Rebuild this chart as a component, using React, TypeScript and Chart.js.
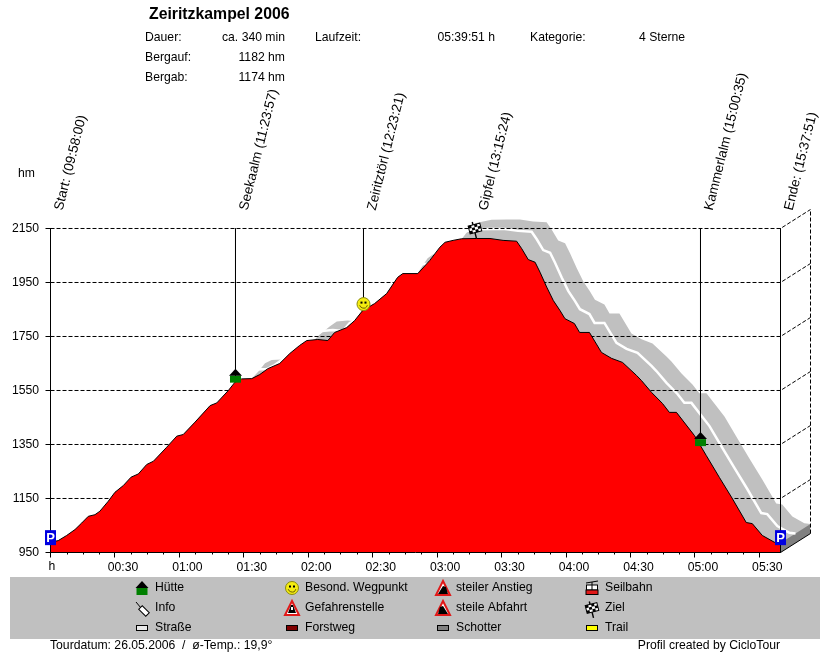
import React, { useEffect, useRef } from "react";
import { Chart, registerables } from "chart.js";

Chart.register(...registerables);

const profileMinutes = [0, 3.6, 7.5, 11.4, 14.5, 17.6, 20.7, 23.0, 26.9, 30.0, 33.9, 37.5, 40.9, 44.8, 47.9, 54.1, 58.8, 61.8, 67.3, 74.3, 77.4, 82.8, 85.9, 89.0, 93.7, 97.4, 101.2, 106.7, 111.4, 116.0, 119.3, 124.4, 129.1, 132.3, 137.9, 141.6, 145.3, 150.9, 156.5, 161.6, 164.0, 171.0, 176.5, 181.3, 183.7, 187.4, 191.4, 198.4, 204.6, 210.7, 217.0, 219.4, 222.4, 225.6, 227.9, 231.0, 234.1, 237.2, 239.5, 243.9, 246.3, 250.9, 256.5, 261.2, 266.3, 272.8, 275.1, 279.8, 284.9, 288.1, 291.4, 299.8, 305.3, 311.4, 317.4, 323.9, 326.7, 331.4, 337.0, 339.85];
const profileElevation = [988, 994, 1013, 1035, 1059, 1084, 1090, 1103, 1140, 1173, 1198, 1229, 1241, 1276, 1288, 1340, 1381, 1387, 1433, 1494, 1504, 1550, 1581, 1593, 1594, 1609, 1631, 1650, 1687, 1717, 1735, 1739, 1735, 1765, 1783, 1809, 1846, 1872, 1909, 1969, 1983, 1983, 2031, 2081, 2099, 2106, 2112, 2113, 2113, 2106, 2103, 2075, 2035, 2025, 1988, 1933, 1883, 1846, 1816, 1798, 1765, 1765, 1691, 1669, 1654, 1606, 1587, 1543, 1502, 1469, 1469, 1383, 1309, 1228, 1150, 1061, 1057, 1013, 988, 985];

const yTicks = [950, 1150, 1350, 1550, 1750, 1950, 2150];
const xTickMinutes = [0, 30, 60, 90, 120, 150, 180, 210, 240, 270, 300, 330];
const xTickLabels = ["", "00:30", "01:00", "01:30", "02:00", "02:30", "03:00", "03:30", "04:00", "04:30", "05:00", "05:30"];
const tourEnd = 339.85;

const waypointNames = ["Start: (09:58:00)", "Seekaalm (11:23:57)", "Zeiritztörl (12:23:21)", "Gipfel (13:15:24)", "Kammerlalm (15:00:35)", "Ende: (15:37:51)"];
const waypointMinutes = [0, 86.12, 145.71, 197.6, 302.6, 339.85];
const waypointStemEnd = [950, 1600, 1875, 2150, 1390, 950];
const waypointIconElev = [1005, 1605, 1870, 2150, 1370, 1005];
const waypointIcons = ["parking", "hut", "smiley", "flag", "hut", "parking"];

const legendRows = [
  [["hut", "Hütte"], ["smiley", "Besond. Wegpunkt"], ["up", "steiler Anstieg"], ["cable", "Seilbahn"]],
  [["pin", "Info"], ["warn", "Gefahrenstelle"], ["down", "steile Abfahrt"], ["flag", "Ziel"]],
  [["road", "Straße"], ["forest", "Forstweg"], ["gravel", "Schotter"], ["trail", "Trail"]],
];

const depthMinutes = 13.96;
const depthMeters = 70.37;

const FONT = '"Liberation Sans", Arial, sans-serif';
const BASE = `12.2px ${FONT}`;

function tri(ctx: CanvasRenderingContext2D, x: number, y: number, kind: string) {
  ctx.beginPath(); ctx.moveTo(x, y - 7); ctx.lineTo(x + 7, y + 7); ctx.lineTo(x - 7, y + 7); ctx.closePath();
  ctx.fillStyle = "#fff"; ctx.fill();
  ctx.strokeStyle = "#e01818"; ctx.lineWidth = 2; ctx.stroke();
  ctx.fillStyle = "#000";
  if (kind === "warn") {
    ctx.beginPath(); ctx.moveTo(x - 1, y - 3); ctx.lineTo(x - 4, y + 5); ctx.lineTo(x + 4, y + 5); ctx.lineTo(x + 1, y - 3); ctx.closePath(); ctx.fill();
    ctx.fillStyle = "#fff"; ctx.fillRect(x - 1, y - 1, 2, 3);
  } else {
    ctx.beginPath();
    if (kind === "up") { ctx.moveTo(x - 5, y + 6); ctx.lineTo(x + 5, y + 6); ctx.lineTo(x + 3, y - 1); ctx.lineTo(x, y - 2); }
    else { ctx.moveTo(x - 5, y + 6); ctx.lineTo(x + 5, y + 6); ctx.lineTo(x, y - 2); ctx.lineTo(x - 3, y - 1); }
    ctx.closePath(); ctx.fill();
  }
}

function drawIcon(ctx: CanvasRenderingContext2D, kind: string, x: number, y: number) {
  ctx.save();
  ctx.lineWidth = 1;
  if (kind === "hut") {
    ctx.fillStyle = "#008000"; ctx.fillRect(x - 5.5, y, 11, 7);
    ctx.fillStyle = "#000"; ctx.beginPath(); ctx.moveTo(x, y - 7); ctx.lineTo(x + 6.5, y); ctx.lineTo(x - 6.5, y); ctx.closePath(); ctx.fill();
  } else if (kind === "parking") {
    ctx.fillStyle = "#0000e0"; ctx.fillRect(x - 5.5, y - 7.5, 11, 15);
    ctx.fillStyle = "#fff"; ctx.font = `bold 13px ${FONT}`; ctx.textAlign = "center"; ctx.textBaseline = "middle"; ctx.fillText("P", x, y + 0.5);
  } else if (kind === "smiley") {
    ctx.beginPath(); ctx.arc(x, y, 6.5, 0, Math.PI * 2); ctx.fillStyle = "#f4ec10"; ctx.fill(); ctx.strokeStyle = "#8a8a10"; ctx.stroke();
    ctx.fillStyle = "#000"; ctx.fillRect(x - 3, y - 2.5, 2, 2); ctx.fillRect(x + 1, y - 2.5, 2, 2);
    ctx.beginPath(); ctx.arc(x, y, 4, 0.3, Math.PI - 0.3); ctx.strokeStyle = "#6a5a00"; ctx.stroke();
  } else if (kind === "flag") {
    ctx.translate(x, y); ctx.rotate(-0.25);
    ctx.strokeStyle = "#000"; ctx.lineWidth = 1.4; ctx.beginPath(); ctx.moveTo(-1, 10); ctx.lineTo(-1, -7); ctx.stroke();
    ctx.lineWidth = 1; ctx.fillStyle = "#fff"; ctx.fillRect(-6, -4, 12, 8); ctx.strokeRect(-6, -4, 12, 8);
    ctx.fillStyle = "#000";
    for (let i = 0; i < 4; i++) for (let j = 0; j < 3; j++) if ((i + j) % 2 === 0) ctx.fillRect(-6 + i * 3, -4 + j * 2.67, 3, 2.67);
  } else if (kind === "up" || kind === "down" || kind === "warn") {
    tri(ctx, x, y, kind);
  } else if (kind === "cable") {
    ctx.strokeStyle = "#000"; ctx.beginPath(); ctx.moveTo(x - 6, y - 5); ctx.lineTo(x + 6, y - 7); ctx.moveTo(x, y - 6); ctx.lineTo(x, y - 3); ctx.stroke();
    ctx.fillStyle = "#fff"; ctx.fillRect(x - 5.5, y - 3, 11, 5); ctx.strokeRect(x - 5.5, y - 3, 11, 5);
    ctx.fillStyle = "#e01818"; ctx.fillRect(x - 6, y + 2, 12, 4.5); ctx.strokeRect(x - 6, y + 2, 12, 4.5);
    ctx.beginPath(); ctx.moveTo(x, y - 3); ctx.lineTo(x, y + 2); ctx.stroke();
  } else if (kind === "pin") {
    ctx.strokeStyle = "#000"; ctx.beginPath(); ctx.moveTo(x - 6, y - 6); ctx.lineTo(x - 1, y); ctx.stroke();
    ctx.translate(x + 2, y + 3); ctx.rotate(Math.PI / 4); ctx.fillStyle = "#fff"; ctx.fillRect(-5, -2.5, 10, 5); ctx.strokeRect(-5, -2.5, 10, 5);
  } else {
    const color = kind === "road" ? "#e8e8e8" : kind === "forest" ? "#800000" : kind === "gravel" ? "#808080" : "#ffff00";
    ctx.fillStyle = color; ctx.fillRect(x - 5.5, y - 2.5, 11, 5); ctx.strokeStyle = "#000"; ctx.strokeRect(x - 5.5, y - 2.5, 11, 5);
  }
  ctx.restore();
}

const chartDecor = {
  id: "chartDecor",
  afterDatasetsDraw(chart: any) {
    const { ctx, scales } = chart;
    const xs = scales.x, ys = scales.y;
    ctx.save();
    // tidy half-covered pixels along the outer edge of the side panel
    ctx.fillStyle = "#fff";
    ctx.fillRect(782, 552, 30, 2);
    ctx.fillRect(810, 534, 2, 20);
    // rotated waypoint names
    ctx.fillStyle = "#000"; ctx.font = `13.5px ${FONT}`; ctx.textBaseline = "alphabetic"; ctx.textAlign = "left";
    waypointNames.forEach((name, i) => {
      ctx.save();
      ctx.translate(xs.getPixelForValue(waypointMinutes[i]) + 12, 211);
      ctx.rotate((-76 * Math.PI) / 180);
      ctx.fillText(name, 0, 0);
      ctx.restore();
    });
    // waypoint icons
    waypointIcons.forEach((icon, i) => {
      drawIcon(ctx, icon, xs.getPixelForValue(waypointMinutes[i]), ys.getPixelForValue(waypointIconElev[i]));
    });
    // minor ticks of the time axis
    ctx.strokeStyle = "#000"; ctx.lineWidth = 1;
    const base = ys.getPixelForValue(950);
    for (let i = 0; i < xTickMinutes.length - 1; i++) {
      [0.25, 0.5, 0.75].forEach((f) => {
        const px = Math.round(xs.getPixelForValue(xTickMinutes[i] + f * 30)) + 0.5;
        ctx.beginPath(); ctx.moveTo(px, base); ctx.lineTo(px, base + 2); ctx.stroke();
      });
    }
    // header
    ctx.fillStyle = "#000";
    ctx.font = `bold 15.8px ${FONT}`; ctx.fillText("Zeiritzkampel 2006", 149, 19);
    ctx.font = BASE; ctx.textBaseline = "middle";
    const left = (t: string, x: number, y: number) => { ctx.textAlign = "left"; ctx.fillText(t, x, y); };
    const right = (t: string, x: number, y: number) => { ctx.textAlign = "right"; ctx.fillText(t, x, y); };
    left("Dauer:", 145, 38); right("ca. 340 min", 285, 38);
    left("Laufzeit:", 315, 38); right("05:39:51 h", 495, 38);
    left("Kategorie:", 530, 38); left("4 Sterne", 639, 38);
    left("Bergauf:", 145, 58); right("1182 hm", 285, 58);
    left("Bergab:", 145, 78); right("1174 hm", 285, 78);
    left("hm", 18, 174);
    left("h", 48.5, 567);
    // legend band
    ctx.fillStyle = "#c0c0c0"; ctx.fillRect(10, 577, 810, 62);
    const iconX = [142, 292, 443, 592];
    const rowY = [588, 608, 628];
    legendRows.forEach((row, r) => row.forEach(([icon, label], c) => {
      drawIcon(ctx, icon, iconX[c], rowY[r]);
      ctx.fillStyle = "#000"; ctx.font = BASE; ctx.textBaseline = "middle";
      left(label, iconX[c] + 13, rowY[r]);
    }));
    left("Tourdatum: 26.05.2006  /  ø-Temp.: 19,9°", 50, 646);
    right("Profil created by CicloTour", 780, 646);
    ctx.restore();
  },
};

const line = (data: any[], extra: any) => ({
  data, pointRadius: 0, borderWidth: 1, borderColor: "#000", fill: false, tension: 0, clip: 3, ...extra,
});

export default function App() {
  const ref = useRef<HTMLCanvasElement>(null);
  useEffect(() => {
    const front = profileMinutes.map((m, i) => ({ x: m, y: profileElevation[i] }));
    const back = front.map((p) => ({ x: p.x + depthMinutes, y: p.y + depthMeters }));
    const middle = front.map((p) => ({ x: p.x + depthMinutes / 2, y: p.y + depthMeters / 2 }));
    const xMax = tourEnd + depthMinutes;
    const yMax = 2150 + depthMeters;
    const dash = [4, 2];

    const paintOrder: any[] = [
      line(back, { borderWidth: 0, borderColor: "#c0c0c0", backgroundColor: "#c0c0c0", fill: "origin" }),
      line([{ x: tourEnd, y: 985 }, { x: xMax, y: 985 + depthMeters }], { borderWidth: 0, backgroundColor: "#808080", fill: "origin" }),
      line([{ x: tourEnd, y: 950 }, { x: xMax, y: 950 + depthMeters }], { backgroundColor: "#fff", fill: "origin" }),
      line(middle, { borderWidth: 2.5, borderColor: "#fff" }),
      ...yTicks.slice(1).map((v) => line([{ x: 0, y: v }, { x: tourEnd, y: v }, { x: xMax, y: v + depthMeters }], { borderDash: dash })),
      line([{ x: xMax, y: 950 + depthMeters }, { x: xMax, y: yMax }], { borderDash: dash }),
      line(front, { borderColor: "#000", backgroundColor: "#ff0000", fill: "origin" }),
      line([{ x: 0, y: 950 }, { x: tourEnd, y: 950 }], {}),
      ...waypointMinutes.map((m, i) => line([{ x: m, y: 2150 }, { x: m, y: waypointStemEnd[i] }], {})),
    ];

    const chart = new Chart(ref.current!, {
      type: "line",
      data: { datasets: paintOrder.slice().reverse() },
      plugins: [chartDecor],
      options: {
        animation: false,
        responsive: false,
        devicePixelRatio: 1,
        events: [],
        layout: { padding: { left: 0.5, right: 19.5, top: 209.5, bottom: 69.5 } },
        plugins: { legend: { display: false }, tooltip: { enabled: false }, title: { display: false } },
        scales: {
          x: {
            type: "linear", min: 0, max: xMax,
            border: { display: false },
            grid: { drawOnChartArea: false, tickLength: 5, color: "#000", tickColor: "#000" },
            afterBuildTicks: (s: any) => { s.ticks = xTickMinutes.map((value) => ({ value })); },
            afterFit: (s: any) => { s.height = 30; },
            ticks: {
              autoSkip: false, maxRotation: 0, minRotation: 0, labelOffset: 8, padding: 3, color: "#000",
              font: { family: FONT, size: 12.2 },
              callback: (_v: any, i: number) => xTickLabels[i],
            },
          },
          y: {
            type: "linear", min: 950, max: yMax,
            border: { display: false },
            grid: { drawOnChartArea: false, tickLength: 5, color: "#000", tickColor: "#000" },
            afterBuildTicks: (s: any) => { s.ticks = yTicks.map((value) => ({ value })); },
            afterFit: (s: any) => { s.width = 50; },
            ticks: {
              autoSkip: false, padding: 6.5, color: "#000",
              font: { family: FONT, size: 12.2 },
              callback: (v: any) => String(v),
            },
          },
        },
      } as any,
    });
    return () => chart.destroy();
  }, []);
  return (
    <canvas
      ref={ref}
      width={830}
      height={652}
      style={{ position: "absolute", left: 0, top: 0, width: 830, height: 652, display: "block", background: "#fff" }}
    />
  );
}
